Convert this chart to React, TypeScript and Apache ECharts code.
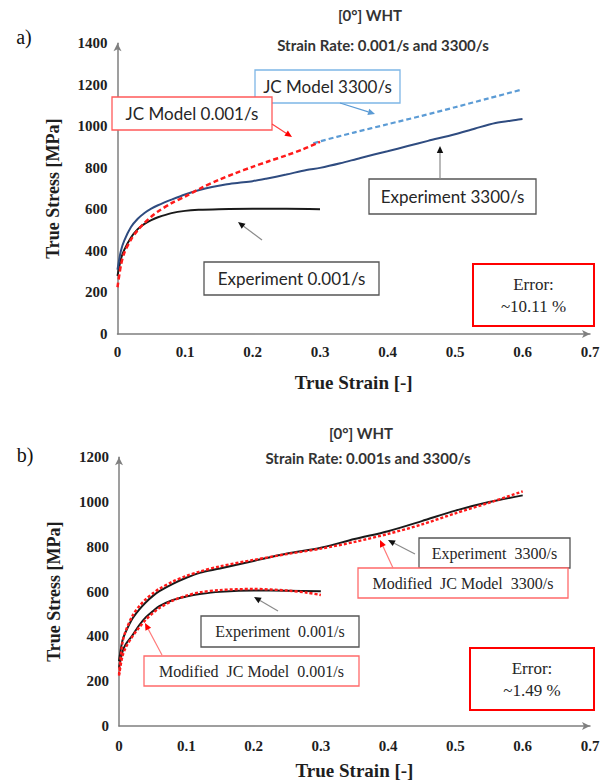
import { useEffect, useRef } from "react";
import * as echarts from "echarts";

// ---------- Data (a) ----------
const strainExpLowA = [0, 0.005, 0.01, 0.02, 0.03, 0.04, 0.05, 0.06, 0.08, 0.1, 0.12, 0.15, 0.2, 0.25, 0.3];
const stressExpLowA = [280, 360, 405, 465, 505, 530, 548, 562, 582, 593, 598, 601, 603, 603, 601];

const strainExpHighA = [0, 0.005, 0.01, 0.02, 0.03, 0.04, 0.05, 0.06, 0.08, 0.1, 0.12, 0.14, 0.16, 0.18, 0.2, 0.22, 0.25, 0.28, 0.3, 0.33, 0.36, 0.4, 0.43, 0.46, 0.5, 0.53, 0.56, 0.59, 0.6];
const stressExpHighA = [310, 400, 450, 515, 555, 583, 604, 620, 647, 672, 692, 708, 720, 728, 736, 748, 768, 790, 800, 822, 848, 880, 905, 930, 962, 990, 1016, 1031, 1035];

const strainJCLowA = [0, 0.005, 0.01, 0.02, 0.03, 0.04, 0.05, 0.06, 0.08, 0.1, 0.125, 0.15, 0.175, 0.2, 0.225, 0.25, 0.275, 0.3];
const stressJCLowA = [225, 330, 390, 455, 500, 535, 565, 590, 630, 662, 705, 742, 775, 805, 833, 860, 890, 925];

const strainJCHighA = [0.29, 0.3, 0.35, 0.4, 0.45, 0.5, 0.55, 0.6];
const stressJCHighA = [918, 928, 970, 1010, 1050, 1092, 1135, 1178];

// ---------- Data (b) ----------
const strainExpHighB = [0, 0.005, 0.01, 0.02, 0.03, 0.04, 0.05, 0.06, 0.08, 0.1, 0.12, 0.15, 0.2, 0.25, 0.3, 0.35, 0.4, 0.45, 0.5, 0.55, 0.6];
const stressExpHighB = [290, 380, 420, 480, 520, 553, 580, 602, 635, 662, 684, 703, 737, 770, 796, 835, 870, 915, 962, 1000, 1030];

const strainModHighB = [0, 0.005, 0.01, 0.02, 0.03, 0.04, 0.05, 0.06, 0.08, 0.1, 0.12, 0.15, 0.2, 0.25, 0.3, 0.35, 0.4, 0.45, 0.5, 0.55, 0.6];
const stressModHighB = [230, 370, 425, 492, 535, 567, 592, 613, 645, 670, 690, 713, 742, 768, 792, 822, 858, 900, 950, 997, 1048];

const strainExpLowB = [0, 0.005, 0.01, 0.02, 0.03, 0.04, 0.05, 0.06, 0.08, 0.1, 0.12, 0.15, 0.2, 0.25, 0.3];
const stressExpLowB = [260, 330, 365, 405, 450, 486, 512, 535, 563, 578, 589, 599, 605, 604, 602];

const strainModLowB = [0, 0.005, 0.01, 0.02, 0.03, 0.04, 0.05, 0.06, 0.08, 0.1, 0.12, 0.15, 0.2, 0.25, 0.28, 0.3];
const stressModLowB = [225, 310, 350, 400, 440, 475, 503, 527, 560, 582, 597, 607, 612, 605, 595, 585];

const pairs = (xs: number[], ys: number[]) => xs.map((x, i) => [x, ys[i]]);

const SERIF = "'Liberation Serif', 'Times New Roman', serif";
const SANS = "Lato, 'Open Sans', sans-serif";

function arrow(x1: number, y1: number, x2: number, y2: number, lineColor: string, headColor: string) {
  const ang = Math.atan2(y2 - y1, x2 - x1);
  const L = 7;
  const W = 3.2;
  const bx = x2 - L * Math.cos(ang);
  const by = y2 - L * Math.sin(ang);
  const px = -Math.sin(ang) * W;
  const py = Math.cos(ang) * W;
  return [
    { type: "line", shape: { x1, y1, x2: bx, y2: by }, style: { stroke: lineColor, lineWidth: 1.2 }, z: 100 },
    {
      type: "polygon",
      shape: { points: [[x2, y2], [bx + px, by + py], [bx - px, by - py]] },
      style: { fill: headColor },
      z: 100,
    },
  ];
}

function box(x: number, y: number, w: number, h: number, stroke: string, lines: string[], font: string, lw = 1.3, lineGap = 22) {
  const els: any[] = [
    { type: "rect", shape: { x, y, width: w, height: h }, style: { fill: "#fff", stroke, lineWidth: lw }, z: 100 },
  ];
  const n = lines.length;
  lines.forEach((t, i) => {
    els.push({
      type: "text",
      x: x + w / 2,
      y: y + h / 2 + (i - (n - 1) / 2) * lineGap,
      style: { text: t, font, fill: "#262626", align: "center", verticalAlign: "middle" },
      z: 101,
    });
  });
  return els;
}

function txt(x: number, y: number, t: string, font: string, fill = "#222") {
  return { type: "text", x, y, style: { text: t, font, fill, align: "center", verticalAlign: "middle" }, z: 101 };
}

export default function App() {
  const ref = useRef<HTMLDivElement>(null);
  useEffect(() => {
    if (!ref.current) return;
    const chart = echarts.init(ref.current, undefined, { renderer: "svg" });

    const axisLine = {
      show: true,
      symbol: ["none", "arrow"],
      symbolSize: [6, 8],
      lineStyle: { color: "#7f7f7f", width: 1.5 },
    };
    const tickLabel = { fontFamily: SERIF, fontWeight: "bold" as const, fontSize: 15, color: "#1e1e1e" };
    const nameStyle = { fontFamily: SERIF, fontWeight: "bold" as const, color: "#1e1e1e" };
    const xFmt = (v: number) => (v === 0 ? "0" : v.toFixed(1));
    const yFmt = (v: number) => String(Math.round(v));

    const xAxis = (gridIndex: number, margin: number, gap: number) => ({
      type: "value",
      gridIndex,
      min: 0,
      max: 0.7,
      interval: 0.1,
      axisLine,
      axisTick: { show: false },
      splitLine: { show: false },
      axisLabel: { ...tickLabel, margin, formatter: xFmt },
      name: "True Strain [-]",
      nameLocation: "middle",
      nameGap: gap,
      nameTextStyle: { ...nameStyle, fontSize: 19 },
    });
    const yAxis = (gridIndex: number, max: number) => ({
      type: "value",
      gridIndex,
      min: 0,
      max,
      interval: 200,
      axisLine,
      axisTick: { show: false },
      splitLine: { show: false },
      axisLabel: { ...tickLabel, margin: 10, formatter: yFmt },
      name: "True Stress [MPa]",
      nameLocation: "middle",
      nameGap: 56,
      nameTextStyle: { ...nameStyle, fontSize: 18 },
    });

    const line = (xi: number, data: number[][], color: string, width: number, type: any) => ({
      type: "line",
      xAxisIndex: xi,
      yAxisIndex: xi,
      data,
      showSymbol: false,
      symbol: "none",
      smooth: 0.3,
      lineStyle: { color, width, type },
    });

    const graphic: any[] = [
      txt(24, 37, "a)", `20px ${SERIF}`, "#111"),
      txt(25, 455, "b)", `20px ${SERIF}`, "#111"),
      txt(370, 15, "[0°] WHT", `bold 15px ${SANS}`, "#333"),
      txt(383, 45, "Strain Rate: 0.001/s and 3300/s", `bold 15px ${SANS}`, "#333"),
      txt(361, 433, "[0°] WHT", `bold 15px ${SANS}`, "#333"),
      txt(368, 458, "Strain Rate: 0.001s and 3300/s", `bold 15px ${SANS}`, "#333"),
      // top annotations
      ...box(255, 70, 145, 33, "#7EB6E6", ["JC Model 3300/s"], `17px ${SANS}`),
      ...arrow(340, 103, 375, 114, "#5B9BD5", "#5B9BD5"),
      ...box(112, 97, 160, 33, "#FF5A5A", ["JC Model 0.001/s"], `17px ${SANS}`),
      ...arrow(272, 124, 292, 137, "#FF4040", "#FF0000"),
      ...box(369, 179, 167, 35, "#555", ["Experiment 3300/s"], `17px ${SANS}`),
      ...arrow(440, 179, 440, 146, "#8a8a8a", "#111"),
      ...box(204, 262, 175, 33, "#555", ["Experiment 0.001/s"], `17px ${SANS}`),
      ...arrow(262, 240, 238, 222, "#8a8a8a", "#111"),
      ...box(473, 264, 121, 62, "#FF0000", ["Error:", "~10.11 %"], `17px ${SERIF}`, 2),
      // bottom annotations
      ...box(419, 538, 151, 30, "#555", ["Experiment  3300/s"], `16px ${SERIF}`),
      ...arrow(415, 554, 388, 540, "#8a8a8a", "#111"),
      ...box(358, 568, 210, 30, "#FF6A6A", ["Modified  JC Model  3300/s"], `16px ${SERIF}`),
      ...arrow(393, 568, 380, 540, "#FF7A7A", "#FF0000"),
      ...box(201, 616, 158, 31, "#555", ["Experiment  0.001/s"], `16px ${SERIF}`),
      ...arrow(278, 611, 254, 597, "#8a8a8a", "#111"),
      ...box(144, 656, 215, 30, "#FF6A6A", ["Modified  JC Model  0.001/s"], `16px ${SERIF}`),
      ...arrow(162, 655, 145, 623, "#FF7A7A", "#FF0000"),
      ...box(470, 648, 124, 62, "#FF0000", ["Error:", "~1.49 %"], `17px ${SERIF}`, 2),
    ];

    chart.setOption({
      animation: false,
      backgroundColor: "#fff",
      grid: [
        { left: 117.5, right: 19, top: 43.3, height: 290.7 },
        { left: 119, right: 19, top: 457.3, height: 268.7 },
      ],
      xAxis: [xAxis(0, 10.5, 38.5), xAxis(1, 12.5, 34.5)],
      yAxis: [yAxis(0, 1400), yAxis(1, 1200)],
      series: [
        line(0, pairs(strainJCHighA, stressJCHighA), "#5B9BD5", 2.2, [5, 3]),
        line(0, pairs(strainExpLowA, stressExpLowA), "#1a1a1a", 2, "solid"),
        line(0, pairs(strainExpHighA, stressExpHighA), "#2F4C80", 2, "solid"),
        line(0, pairs(strainJCLowA, stressJCLowA), "#FF1a1a", 2.5, [5, 3]),
        line(1, pairs(strainExpHighB, stressExpHighB), "#1a1a1a", 2, "solid"),
        line(1, pairs(strainExpLowB, stressExpLowB), "#1a1a1a", 2, "solid"),
        line(1, pairs(strainModHighB, stressModHighB), "#FF1a1a", 2.4, [3, 2]),
        line(1, pairs(strainModLowB, stressModLowB), "#FF1a1a", 2.4, [3, 2]),
      ],
      graphic,
    });
    return () => chart.dispose();
  }, []);

  return <div ref={ref} style={{ position: "fixed", left: 0, top: 0, width: 609, height: 782 }} />;
}
